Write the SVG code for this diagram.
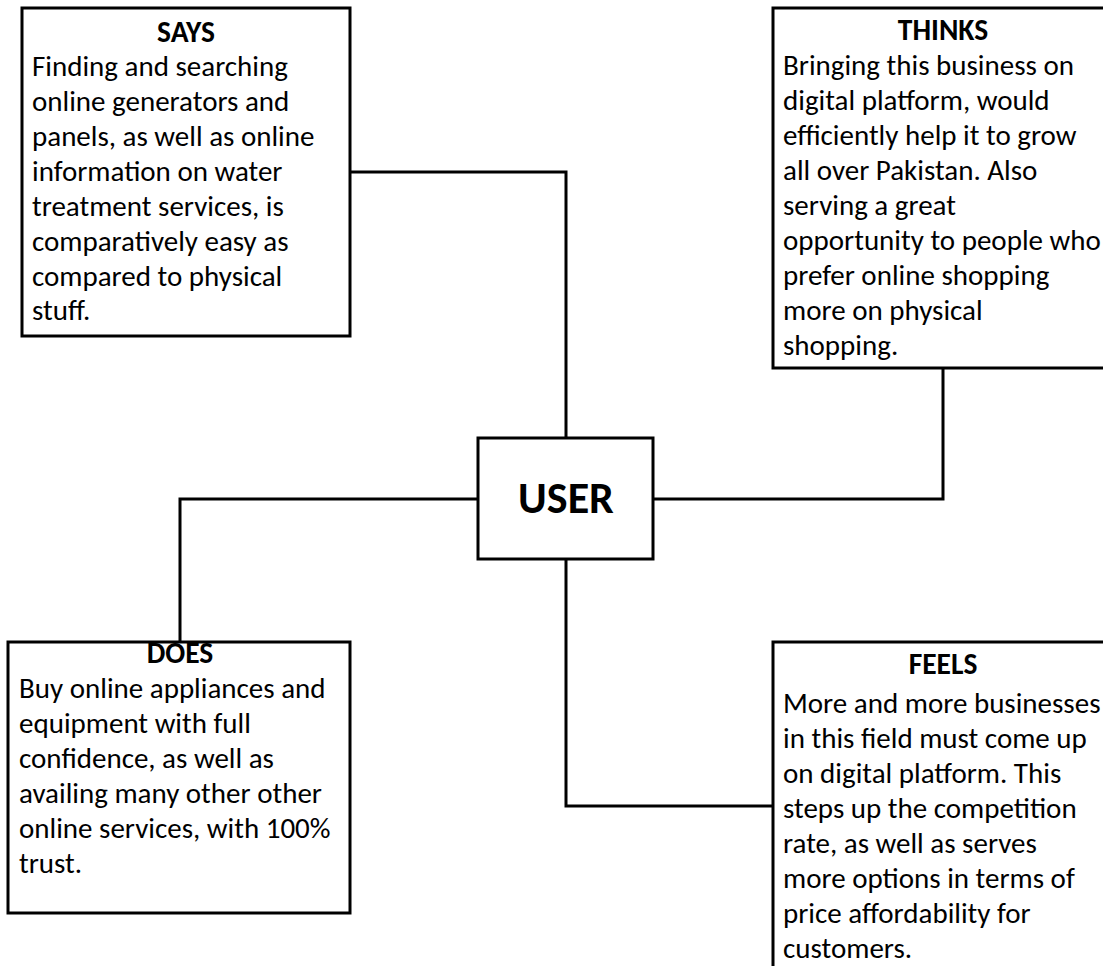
<svg xmlns="http://www.w3.org/2000/svg" width="1103" height="966" viewBox="0 0 1103 966">
<style>
.box{fill:#fff;stroke:#000;stroke-width:3}
.conn{fill:none;stroke:#000;stroke-width:3}
.t{font-family:Carlito,Lato,"Liberation Sans",sans-serif;font-size:29px;fill:#000}
.h{font-family:Carlito,Lato,"Liberation Sans",sans-serif;font-size:29.5px;font-weight:bold;fill:#000;text-anchor:middle}
.u{font-family:Carlito,Lato,"Liberation Sans",sans-serif;font-size:44px;font-weight:bold;fill:#000;text-anchor:middle}
</style>
<rect width="1103" height="966" fill="#fff"/>
<g id="connectors">
<path class="conn" d="M350,172 H566 V438"/>
<path class="conn" d="M943,368 V499 H653"/>
<path class="conn" d="M478,499 H180 V642"/>
<path class="conn" d="M566,559 V806 H773"/>
</g>
<g id="says">
<rect class="box" x="22" y="8" width="328" height="328"/>
<text class="h" x="186" y="42">SAYS</text>
<text class="t" x="32" y="76">Finding and searching</text>
<text class="t" x="32" y="111">online generators and</text>
<text class="t" x="32" y="146">panels, as well as online</text>
<text class="t" x="32" y="181">information on water</text>
<text class="t" x="32" y="216">treatment services, is</text>
<text class="t" x="32" y="251">comparatively easy as</text>
<text class="t" x="32" y="286">compared to physical</text>
<text class="t" x="32" y="320">stuff.</text>
</g>
<g id="thinks">
<rect class="box" x="773" y="8" width="340" height="360"/>
<text class="h" x="943" y="40">THINKS</text>
<text class="t" x="783" y="75">Bringing this business on</text>
<text class="t" x="783" y="110">digital platform, would</text>
<text class="t" x="783" y="145">efficiently help it to grow</text>
<text class="t" x="783" y="180">all over Pakistan. Also</text>
<text class="t" x="783" y="215">serving a great</text>
<text class="t" x="783" y="250">opportunity to people who</text>
<text class="t" x="783" y="285">prefer online shopping</text>
<text class="t" x="783" y="320">more on physical</text>
<text class="t" x="783" y="355">shopping.</text>
</g>
<g id="user">
<rect class="box" x="478" y="438" width="175" height="121"/>
<text class="u" x="566" y="513">USER</text>
</g>
<g id="does">
<rect class="box" x="8" y="642" width="342" height="271"/>
<text class="h" x="180" y="663">DOES</text>
<text class="t" x="19" y="698">Buy online appliances and</text>
<text class="t" x="19" y="733">equipment with full</text>
<text class="t" x="19" y="768">confidence, as well as</text>
<text class="t" x="19" y="803">availing many other other</text>
<text class="t" x="19" y="838">online services, with 100%</text>
<text class="t" x="19" y="873">trust.</text>
</g>
<g id="feels">
<rect class="box" x="773" y="642" width="340" height="340"/>
<text class="h" x="943" y="674">FEELS</text>
<text class="t" x="783" y="713">More and more businesses</text>
<text class="t" x="783" y="748">in this field must come up</text>
<text class="t" x="783" y="783">on digital platform. This</text>
<text class="t" x="783" y="818">steps up the competition</text>
<text class="t" x="783" y="853">rate, as well as serves</text>
<text class="t" x="783" y="888">more options in terms of</text>
<text class="t" x="783" y="923">price affordability for</text>
<text class="t" x="783" y="958">customers.</text>
</g>
</svg>
